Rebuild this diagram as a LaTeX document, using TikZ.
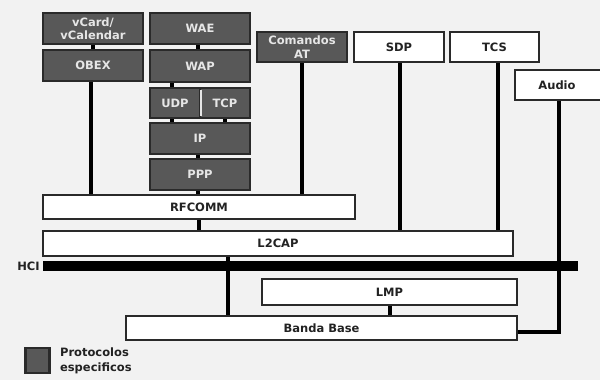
\documentclass[tikz,border=0pt]{standalone}
\usepackage{fontspec}
\setmainfont{DejaVu Sans}
\definecolor{bgc}{HTML}{F2F2F2}
\definecolor{dfill}{HTML}{585858}
\definecolor{dline}{HTML}{2A2A2A}
\definecolor{dtext}{HTML}{E6E6E6}
\definecolor{ltext}{HTML}{222222}
\tikzset{
  base/.style={rectangle, inner sep=0pt, line width=2.2pt, align=center,
    font=\fontsize{11.5}{13.5}\selectfont\bfseries},
  dbox/.style={base, fill=dfill, draw=dline, text=dtext},
  wbox/.style={base, fill=white, draw=dline, text=ltext},
  conn/.style={line width=3.4pt, draw=black},
}
\begin{document}
\begin{tikzpicture}[x=1pt,y=-1pt]
\clip (0,0) rectangle (600,380);
\fill[bgc] (0,0) rectangle (600,380);
% dark boxes
\node[dbox, minimum width=100pt, minimum height=31pt] (vcard) at (93,28.5) {vCard/\\vCalendar};
\node[dbox, minimum width=100pt, minimum height=31pt] (obex) at (93,65.5) {OBEX};
\node[dbox, minimum width=100pt, minimum height=31pt] (wae) at (200,28.5) {WAE};
\node[dbox, minimum width=100pt, minimum height=32pt] (wap) at (200,66) {WAP};
\node[dbox, minimum width=50pt, minimum height=30pt] (udp) at (175,103) {UDP};
\node[dbox, minimum width=50pt, minimum height=30pt] (tcp) at (225,103) {TCP};
\draw[line width=1.8pt, dtext] ([yshift=-3pt]udp.north east) -- ([yshift=3pt]udp.south east);
\node[dbox, minimum width=100pt, minimum height=31pt] (ip) at (200,138.5) {IP};
\node[dbox, minimum width=100pt, minimum height=31pt] (ppp) at (200,174.5) {PPP};
\node[dbox, minimum width=90pt, minimum height=30pt] (at) at (302,47) {Comandos\\AT};
% white boxes
\node[wbox, minimum width=90pt, minimum height=30pt] (sdp) at (399,47) {SDP};
\node[wbox, minimum width=89pt, minimum height=30pt] (tcs) at (494.5,47) {TCS};
\node[wbox, minimum width=90pt, minimum height=30pt] (audio) at (560,85) {\hspace*{-6pt}Audio};
\node[wbox, minimum width=312pt, minimum height=24pt] (rfcomm) at (199,207) {RFCOMM};
\node[wbox, minimum width=470pt, minimum height=25pt] (l2cap) at (278,243.5) {L2CAP};
\node[rectangle, fill=black, inner sep=0pt, minimum width=535pt, minimum height=10pt] (hci) at (310.5,266) {};
\node[base, anchor=east, text=ltext, inner xsep=2pt] (hcil) at (hci.west) {HCI};
\node[wbox, minimum width=255pt, minimum height=26pt] (lmp) at (389.5,292) {LMP};
\node[wbox, minimum width=391pt, minimum height=24pt] (bb) at (321.5,328) {Banda Base};
% legend
\node[dbox, minimum width=24pt, minimum height=25pt] (leg) at (37.5,360.5) {};
\node[base, anchor=west, align=left, text=ltext, font=\fontsize{11.5}{15}\selectfont\bfseries] (legt) at (59,360.5) {Protocolos\\especificos};
% connectors
\draw[conn] (vcard.south) -- (obex.north);
\draw[conn] ([xshift=-2pt]obex.south) -- ([xshift=-2pt]obex.south |- rfcomm.north);
\draw[conn] ([xshift=-2pt]wae.south) -- ([xshift=-2pt]wap.north);
\draw[conn] ([xshift=-3pt]udp.north) -- ([xshift=-3pt]udp.north |- wap.south);
\draw[conn] ([xshift=-3pt]udp.south) -- ([xshift=-3pt]udp.south |- ip.north);
\draw[conn] (tcp.south) -- (tcp.south |- ip.north);
\draw[conn] ([xshift=-2pt]ip.south) -- ([xshift=-2pt]ppp.north);
\draw[conn] ([xshift=-2pt]ppp.south) -- ([xshift=-2pt]ppp.south |- rfcomm.north);
\draw[conn] (at.south) -- (at.south |- rfcomm.north);
\draw[conn] ([xshift=1pt]sdp.south) -- ([xshift=1pt]sdp.south |- l2cap.north);
\draw[conn] ([xshift=3.5pt]tcs.south) -- ([xshift=3.5pt]tcs.south |- l2cap.north);
\draw[conn] (rfcomm.south) -- (rfcomm.south |- l2cap.north);
\draw[conn] ([xshift=-50pt]l2cap.south) -- ([xshift=-50pt]l2cap.south |- bb.north);
\draw[conn] ([xshift=0.5pt]lmp.south) -- ([xshift=0.5pt]lmp.south |- bb.north);
\draw[conn] ([xshift=-1pt]audio.south) |- ([yshift=-4pt]bb.east);
\end{tikzpicture}
\end{document}
